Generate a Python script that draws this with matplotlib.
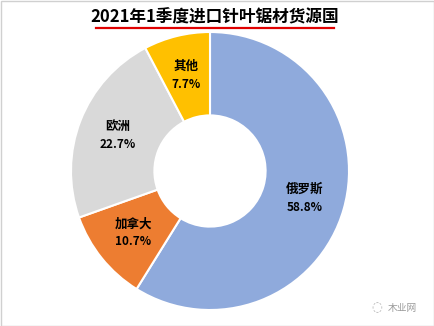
import numpy as np
import matplotlib.pyplot as plt
from matplotlib.patches import Rectangle

plt.rcParams['font.family'] = ['Noto Sans CJK SC', 'DejaVu Sans']

title = '2021年1季度进口针叶锯材货源国'
countries = ['俄罗斯', '加拿大', '欧洲', '其他']
shares = [58.8, 10.7, 22.7, 7.7]
colors = ['#8FAADC', '#ED7D31', '#D9D9D9', '#FFC000']

W, H = 435, 326
fig = plt.figure(figsize=(W / 100, H / 100), dpi=100)
fig.patch.set_facecolor('white')

# thin grey frame round the whole image
fig.add_artist(Rectangle((0.5 / W, 0.5 / H), 1 - 1.5 / W, 1 - 1.5 / H,
                         transform=fig.transFigure, fill=False,
                         edgecolor='#D0D0D0', linewidth=1))

cx, cy, r = 210, 171, 139
ax = fig.add_axes([(cx - r) / W, (H - cy - r) / H, 2 * r / W, 2 * r / H])
ax.pie(shares, colors=colors, startangle=90, counterclock=False,
       wedgeprops=dict(width=0.6, edgecolor='white', linewidth=1.5))
ax.set_xlim(-1, 1)
ax.set_ylim(-1, 1)
ax.set_aspect('equal')
ax.axis('off')

# labels in the middle of each ring segment
start = 90.0
total = sum(shares)
for name, v in zip(countries, shares):
    mid = np.deg2rad(start - v / total * 360 / 2)
    start -= v / total * 360
    x, y = 0.71 * np.cos(mid), 0.71 * np.sin(mid)
    ax.text(x, y + 0.065, name, ha='center', va='center',
            fontsize=9, fontweight='bold', color='black')
    ax.text(x, y - 0.065, f'{v:.1f}%', ha='center', va='center',
            fontsize=8.5, fontweight='bold', color='black')

fig.text(215 / W, 1 - 17 / H, title, ha='center', va='center',
         fontsize=12, fontweight='bold', color='black')
fig.add_artist(plt.Line2D([96 / W, 334 / W], [1 - 28 / H, 1 - 28 / H],
                          color='#E00000', linewidth=1.6,
                          transform=fig.transFigure))

# watermark
fig.text(402 / W, 1 - 308 / H, '木业网', ha='center', va='center',
         fontsize=7, color='#9A9A9A')
fig.text(377 / W, 1 - 308 / H, '◌', ha='center', va='center',
         fontsize=9, color='#B0B0B0', family=['DejaVu Sans'])

fig.savefig('out.png', dpi=100)
